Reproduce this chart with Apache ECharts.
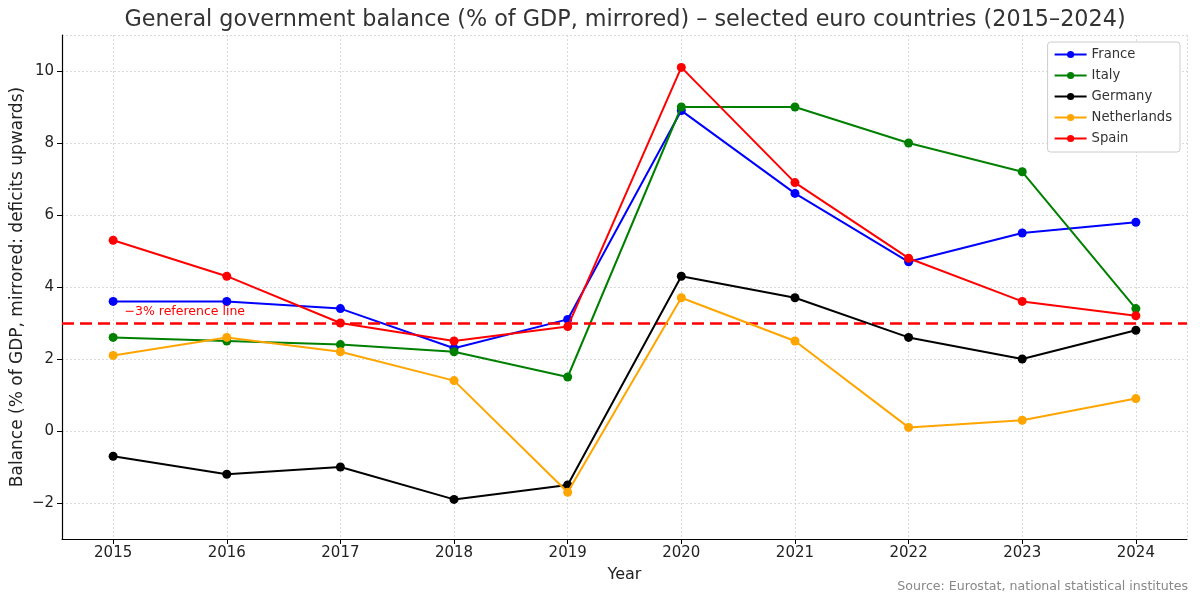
<!DOCTYPE html>
<html><head><meta charset="utf-8">
<script src="https://cdn.jsdelivr.net/npm/echarts@6/dist/echarts.min.js"></script>
<style>html,body{margin:0;padding:0;background:#fff}#c{width:1200px;height:605px}</style>
</head><body><div id="c"></div>
<script>
const years = [2015, 2016, 2017, 2018, 2019, 2020, 2021, 2022, 2023, 2024];
const france = [3.6, 3.6, 3.4, 2.3, 3.1, 8.9, 6.6, 4.7, 5.5, 5.8];
const italy = [2.6, 2.5, 2.4, 2.2, 1.5, 9.0, 9.0, 8.0, 7.2, 3.4];
const germany = [-0.7, -1.2, -1.0, -1.9, -1.5, 4.3, 3.7, 2.6, 2.0, 2.8];
const netherlands = [2.1, 2.6, 2.2, 1.4, -1.7, 3.7, 2.5, 0.1, 0.3, 0.9];
const spain = [5.3, 4.3, 3.0, 2.5, 2.9, 10.1, 6.9, 4.8, 3.6, 3.2];
const referenceValue = 3;
const seriesNames = ['France', 'Italy', 'Germany', 'Netherlands', 'Spain'];
const seriesColors = ['#0000ff', '#008000', '#000000', '#ffa500', '#ff0000'];
const seriesData = [france, italy, germany, netherlands, spain];

const font = 'DejaVu Sans';
const chart = echarts.init(document.getElementById('c'));
const series = seriesNames.map((n, i) => ({
  name: n, type: 'line', data: years.map((y, k) => [y, seriesData[i][k]]),
  symbol: 'circle', symbolSize: 9, color: seriesColors[i],
  lineStyle: { width: 2, color: seriesColors[i] },
  itemStyle: { color: seriesColors[i] }, z: 3 + i
}));
series.push({
  name: 'ref', type: 'line', data: [], silent: true,
  markLine: {
    silent: true, symbol: 'none',
    lineStyle: { color: '#ff0000', type: [12, 6], width: 2.5 },
    label: { show: false },
    data: [{ yAxis: referenceValue }]
  }
});
const axisCommon = {
  axisLine: { show: true, onZero: false, lineStyle: { color: '#000', width: 1.2 } },
  axisTick: { show: true, length: 5, lineStyle: { color: '#000' } },
  splitLine: { show: true, lineStyle: { color: '#d0d0d0', type: [2, 2], width: 0.8 } }
};
chart.setOption({
  animation: false,
  backgroundColor: '#fff',
  textStyle: { fontFamily: font },
  title: {
    text: 'General government balance (% of GDP, mirrored) – selected euro countries (2015–2024)',
    left: 620, textAlign: 'center', top: 4,
    textStyle: { fontFamily: font, fontSize: 22.3, fontWeight: 'normal', color: '#333' }
  },
  grid: { left: 62, right: 13, top: 35, bottom: 66, containLabel: false, outerBoundsMode: 'none' },
  legend: {
    data: seriesNames, orient: 'vertical', right: 20, top: 42,
    itemWidth: 32, itemHeight: 9, itemGap: 8,
    backgroundColor: '#fff', borderColor: '#ccc', borderWidth: 1, borderRadius: 3,
    padding: [6, 8, 7, 6],
    textStyle: { fontFamily: font, fontSize: 13.2, color: '#333' }
  },
  xAxis: Object.assign({
    type: 'value', min: 2014.55, max: 2024.45, splitNumber: 10,
    name: 'Year', nameLocation: 'middle', nameGap: 28, nameMoveOverlap: false,
    nameTextStyle: { fontFamily: font, fontSize: 16, color: '#222' },
    axisLabel: { fontFamily: font, fontSize: 15, color: '#222', margin: 7,
      showMinLabel: false, showMaxLabel: false,
      formatter: v => Number.isInteger(v) ? String(v) : '' }
  }, axisCommon),
  yAxis: Object.assign({
    type: 'value', min: -3, max: 11, splitNumber: 7,
    name: 'Balance (% of GDP, mirrored: deficits upwards)', nameLocation: 'middle', nameGap: 36, nameMoveOverlap: false,
    nameTextStyle: { fontFamily: font, fontSize: 17, color: '#222' },
    axisLabel: { fontFamily: font, fontSize: 15, color: '#222', margin: 8,
      showMinLabel: false, showMaxLabel: false,
      formatter: v => (v % 2 === 0) ? String(v).replace('-', '\u2212') : '' }
  }, axisCommon),
  series: series
});
const p = chart.convertToPixel({ xAxisIndex: 0, yAxisIndex: 0 }, [2015.1, referenceValue]);
chart.setOption({ graphic: [
  { type: 'text', right: 12, top: 580, style: { text: 'Source: Eurostat, national statistical institutes', fontFamily: font, fontSize: 12.6, fill: '#888' } },
  { type: 'text', x: p[0], y: p[1] - 18, style: { text: '\u22123% reference line', fontFamily: font, fontSize: 12.5, fill: '#ff0000' }, z: 10 }
] });
</script></body></html>
